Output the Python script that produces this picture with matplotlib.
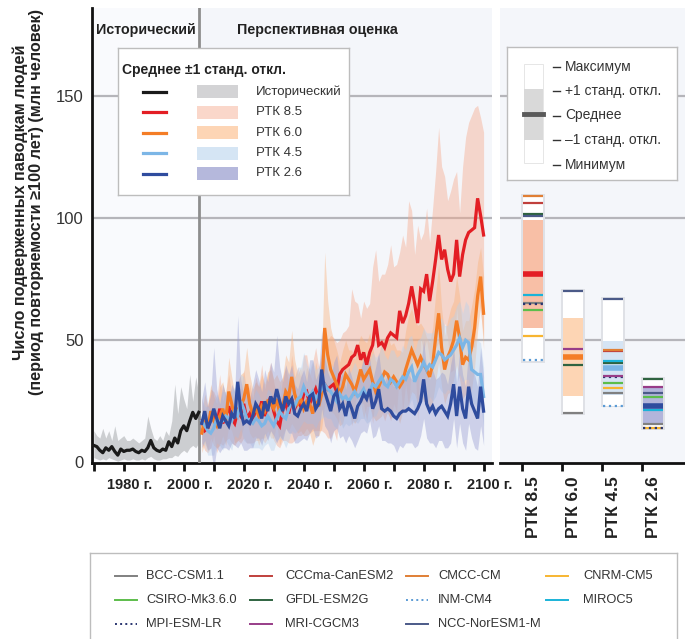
import numpy as np
import matplotlib.pyplot as plt
from matplotlib.patches import Rectangle
from matplotlib.transforms import ScaledTranslation

plt.rcParams['font.family'] = ['Liberation Sans', 'DejaVu Sans']

# ---- data ---------------------------------------------------------------
hist_years = np.arange(1970, 2006)
hist_mean = [7, 6.5, 5, 4, 6, 5, 6.5, 4.5, 3, 5.5, 4.5, 5, 5, 5.5, 4.5, 4, 5, 4.5,
             6, 9, 6, 5, 4.5, 5.5, 5, 8.5, 6.5, 10, 8, 13, 15, 13, 17, 20.5, 18, 20.5]
hist_lo = [2, 1.5, 1, 1.5, 1, 2, 1.5, 1, 0.5, 1, 1.5, 1, 1, 1.5, 1, 1, 1.5, 1,
           2, 2.5, 1.5, 1, 1, 1.5, 1.5, 2, 2, 3, 2.5, 4, 5, 4, 6, 7, 6, 8]
hist_hi = [13, 11, 10, 14, 10, 13, 9, 15, 9, 10, 11, 9, 9, 10, 9, 8, 9, 10,
           19, 14, 10, 9, 11, 9, 13, 11, 17, 32, 20, 31, 26, 22, 36, 25, 35, 28]

proj_years = np.arange(2006, 2101)
rcp85_mean = [17, 13, 14, 18, 20, 15, 22, 16, 19, 23,
              18, 16, 21, 19, 24, 18, 20, 17, 22, 20,
              25, 19, 23, 27, 21, 17, 15, 22, 24, 20,
              26, 22, 25, 23, 28, 29, 24, 27, 30, 26,
              29, 32, 30, 31, 32, 29, 36, 38, 39, 40,
              43, 44, 48, 42, 45, 40, 45, 48, 58, 48,
              49, 47, 51, 53, 52, 51, 62, 57, 60, 65,
              72, 65, 57, 71, 70, 77, 66, 74, 83, 93,
              83, 87, 79, 74, 77, 91, 76, 85, 91, 94,
              95, 96, 108, 101, 93]
rcp85_sd = [9, 8, 10, 12, 9, 11, 14, 9, 10, 13,
            10, 9, 12, 11, 14, 10, 12, 9, 13, 11,
            15, 11, 13, 14, 12, 10, 9, 13, 15, 12,
            18, 13, 14, 12, 16, 15, 12, 14, 17, 13,
            16, 20, 20, 21, 19, 20, 14, 15, 15, 16,
            28, 22, 17, 17, 21, 23, 20, 32, 29, 26,
            28, 30, 30, 36, 28, 30, 24, 36, 28, 42,
            31, 20, 40, 20, 24, 27, 24, 30, 36, 44,
            38, 30, 28, 37, 39, 28, 26, 36, 42, 45,
            47, 49, 38, 40, 42]
rcp60_mean = [12, 18, 14, 21, 17, 15, 19, 22, 17, 29,
              24, 18, 21, 23, 26, 32, 24, 20, 22, 19,
              23, 21, 25, 24, 22, 26, 20, 23, 29, 27,
              35, 28, 24, 26, 22, 25, 24, 20, 26, 23,
              28, 55, 44, 38, 35, 32, 28, 31, 36, 34,
              32, 29, 33, 38, 34, 36, 38, 33, 29, 31,
              34, 37, 36, 33, 35, 33, 31, 33, 38, 42,
              46, 43, 40, 43, 40, 38, 35, 40, 51, 61,
              47, 38, 43, 46, 50, 58, 51, 40, 43, 42,
              47, 55, 68, 76, 61]
rcp60_sd = [8, 10, 9, 11, 10, 9, 12, 11, 10, 14,
            11, 10, 12, 13, 11, 15, 12, 10, 11, 12,
            13, 11, 12, 14, 12, 10, 13, 12, 15, 14,
            19, 14, 12, 13, 11, 14, 12, 13, 15, 12,
            14, 31, 22, 17, 15, 14, 13, 15, 14, 12,
            14, 13, 15, 14, 16, 13, 15, 14, 12, 13,
            15, 14, 16, 15, 14, 13, 15, 12, 16, 18,
            17, 15, 16, 14, 15, 13, 14, 15, 18, 20,
            16, 14, 15, 17, 16, 18, 17, 14, 15, 16,
            17, 16, 14, 12, 15]
rcp45_mean = [17, 15, 13, 12, 14, 18, 16, 17, 19, 18,
              17, 21, 19, 25, 22, 18, 17, 16, 18, 17,
              15, 16, 19, 17, 15, 18, 21, 19, 18, 22,
              25, 23, 26, 27, 31, 28, 27, 29, 26, 28,
              30, 32, 30, 29, 27, 25, 28, 26, 27, 25,
              27, 29, 27, 28, 30, 27, 29, 32, 31, 33,
              35, 32, 31, 34, 33, 31, 33, 35, 34, 37,
              39, 33, 36, 38, 41, 38, 40, 39, 42, 45,
              44, 42, 43, 44, 46, 48, 51, 47, 50, 49,
              38, 37, 36, 36, 27]
rcp45_sd = [9, 8, 10, 9, 11, 10, 9, 12, 10, 11,
            12, 10, 9, 11, 13, 10, 9, 10, 12, 11,
            10, 9, 11, 12, 10, 9, 11, 10, 12, 13,
            12, 11, 13, 12, 14, 12, 11, 13, 12, 11,
            12, 13, 12, 11, 12, 11, 10, 12, 11, 10,
            11, 12, 11, 10, 12, 11, 12, 13, 12, 11,
            13, 12, 11, 12, 13, 12, 11, 13, 12, 14,
            13, 12, 14, 13, 14, 15, 13, 14, 15, 14,
            15, 14, 13, 15, 14, 16, 15, 14, 16, 15,
            14, 13, 14, 13, 12]
rcp26_mean = [16, 21, 14, 17, 22, 18, 14, 19, 17, 15,
              20, 18, 33, 21, 16, 17, 16, 19, 24, 22,
              18, 25, 21, 27, 24, 30, 25, 21, 27, 24,
              26, 20, 19, 22, 24, 21, 27, 28, 22, 24,
              38, 29, 25, 21, 27, 29, 22, 24, 19, 25,
              22, 18, 23, 25, 28, 26, 30, 22, 25, 30,
              22, 21, 22, 21, 19, 18, 20, 21, 21, 22,
              21, 20, 22, 25, 34, 24, 21, 23, 20, 22,
              23, 21, 19, 24, 32, 19, 31, 22, 18, 31,
              24, 21, 18, 31, 21]
rcp26_sd = [10, 12, 9, 11, 25, 12, 10, 13, 11, 10,
            12, 11, 27, 13, 11, 12, 10, 13, 14, 12,
            11, 13, 12, 14, 13, 22, 14, 12, 13, 12,
            14, 12, 11, 13, 14, 12, 15, 14, 12, 13,
            16, 14, 12, 13, 14, 15, 12, 13, 11, 14,
            13, 12, 14, 13, 15, 14, 13, 12, 14, 15,
            13, 12, 14, 13, 12, 14, 13, 15, 13, 14,
            13, 14, 15, 14, 16, 14, 13, 15, 14, 13,
            14, 15, 13, 16, 14, 13, 15, 14, 13, 15,
            14, 15, 13, 16, 14]

# end-of-century summary per scenario
scenarios = ['РТК 8.5', 'РТК 6.0', 'РТК 4.5', 'РТК 2.6']
stat_mean = [77.1, 43.1, 38.6, 23.2]
stat_sd = [22.2, 16.1, 11.0, 7.5]
stat_min = [41.6, 20.2, 23.3, 14.2]
stat_max = [109.0, 70.2, 66.9, 34.3]

models = ['BCC-CSM1.1', 'CCCma-CanESM2', 'CMCC-CM', 'CNRM-CM5',
          'CSIRO-Mk3.6.0', 'GFDL-ESM2G', 'INM-CM4', 'MIROC5',
          'MPI-ESM-LR', 'MRI-CGCM3', 'NCC-NorESM1-M']
nan = np.nan
model_rcp85 = [65.2, 106.0, 108.9, 51.8, 62.4, 101.7, 41.7, 68.3, 64.9, 76.6, 100.7]
model_rcp60 = [20.2, nan, nan, nan, nan, 39.8, nan, nan, nan, 46.3, 70.2]
model_rcp45 = [28.3, 45.4, 45.8, 30.5, 32.7, 40.6, 23.3, 41.3, 35.0, 35.4, 66.9]
model_rcp26 = [15.8, nan, nan, 14.2, 26.7, 34.3, nan, 21.4, 14.0, 30.8, 28.3]

# ---- styles -------------------------------------------------------------
line_col = ['#e31e24', '#f47d26', '#7cb6e6', '#2f4c9e']
band_col = ['#f6a88a', '#f9b27c', '#b8d2ee', '#979dd2']
bar_col = ['#f8bfa6', '#fdd5b4', '#d5e4f4', '#b2b5db']
legend_patch = ['#fad7ca', '#fdd5b5', '#d5e5f4', '#b5b8dc']
model_col = ['#808080', '#c0403c', '#e07f35', '#f7b531', '#5dbd4b', '#2f6340',
             '#5b9bd5', '#1ab3d8', '#2a3570', '#983d88', '#4b5a88']
model_ls = ['-', '-', '-', '-', '-', '-', ':', '-', ':', '-', '-']
bg = '#f4f6fa'
grid_col = '#b5b5ba'
txt = '#333333'

W, H = 685, 639
fig = plt.figure(figsize=(W / 100, H / 100), dpi=100)


def box(x0, y0, x1, y1):
    # pixel box measured from the top-left corner -> figure fraction rect
    return [x0 / W, 1 - y1 / H, (x1 - x0) / W, (y1 - y0) / H]


def pixel_axes(x0, y0, x1, y1, edge='#bdbdbd'):
    a = fig.add_axes(box(x0, y0, x1, y1))
    a.set_xlim(x0, x1)
    a.set_ylim(y1, y0)
    a.set_xticks([])
    a.set_yticks([])
    a.set_facecolor('white')
    for s in a.spines.values():
        s.set_color(edge)
        s.set_linewidth(1)
    return a


ytop = 185.8

# ---- main time-series panel ---------------------------------------------
ax = fig.add_axes(box(92, 8, 492, 462.5))
ax.set_facecolor(bg)
ax.set_xlim(1969.4, 2102.8)
ax.set_ylim(0, ytop)
ax.axvspan(1969.4, 2005, color='#f9fafd', zorder=0, lw=0)
for g in (50, 100, 150):
    ax.axhline(g, color=grid_col, lw=1.6, zorder=1)

ax.fill_between(hist_years, hist_lo, hist_hi, color='#c5c7ca', alpha=0.85, lw=0, zorder=2)
means = [rcp85_mean, rcp60_mean, rcp45_mean, rcp26_mean]
sds = [rcp85_sd, rcp60_sd, rcp45_sd, rcp26_sd]
for m, s, c in zip(means, sds, band_col):
    m = np.array(m, float)
    s = np.array(s, float)
    ax.fill_between(proj_years, m - s, m + s, color=c, alpha=0.42, lw=0, zorder=2)

ax.axvline(2005, color='#8e8e8e', lw=2, zorder=3)
for m, c in zip(means, line_col):
    ax.plot(proj_years, m, color=c, lw=2.3, zorder=4, solid_joinstyle='miter')
ax.plot(hist_years, hist_mean, color='#1a1a1a', lw=2.3, zorder=5)

for side in ('top', 'right'):
    ax.spines[side].set_visible(False)
for side in ('left', 'bottom'):
    ax.spines[side].set_linewidth(2)
    ax.spines[side].set_color('#111111')

ax.set_xticks(np.arange(1970, 2101, 10))
ax.set_xticklabels([f'{y} г.' if y % 20 == 0 and y >= 1980 else '' for y in range(1970, 2101, 10)],
                   fontsize=10.5, fontweight='bold', color='#222222')
ax.tick_params(axis='x', length=6, width=2, color='#111111', pad=5)
for lab in ax.get_xticklabels():
    lab.set_transform(lab.get_transform() + ScaledTranslation(0.06, 0, fig.dpi_scale_trans))
ax.set_yticks([0, 50, 100, 150])
ax.set_yticklabels(['0', '50', '100', '150'], fontsize=12, color=txt)
ax.tick_params(axis='y', length=0, pad=6)

fig.text(96 / W, 1 - 30 / H, 'Исторический', fontsize=10.3, fontweight='bold', va='center',
         color='#222222')
fig.text(237 / W, 1 - 30 / H, 'Перспективная оценка', fontsize=10.3, fontweight='bold',
         va='center', color='#222222')
fig.text(28 / W, 1 - 202 / H,
         'Число подверженных паводкам людей\n(период повторяемости ≥100 лет) (млн человек)',
         rotation=90, ha='center', va='center', fontsize=11.7, fontweight='bold',
         multialignment='center', linespacing=1.1, color='#222222')

# ---- end-of-century summary panel ---------------------------------------
axr = fig.add_axes(box(500, 8, 685, 462.5))
axr.set_facecolor(bg)
axr.set_xlim(-0.825, 3.8)
axr.set_ylim(0, ytop)
for g in (50, 100, 150):
    axr.axhline(g, color=grid_col, lw=1.6, zorder=1)

model_vals = np.array([model_rcp85, model_rcp60, model_rcp45, model_rcp26])
hw = 0.25
for i in range(4):
    axr.add_patch(Rectangle((i - hw - 0.04, stat_min[i] - 0.8), 2 * hw + 0.08,
                            stat_max[i] - stat_min[i] + 1.6, fc='#dfe1e6', ec='none', zorder=2))
    axr.add_patch(Rectangle((i - hw, stat_min[i]), 2 * hw, stat_max[i] - stat_min[i],
                            fc='white', ec='none', zorder=3))
    axr.add_patch(Rectangle((i - hw, stat_mean[i] - stat_sd[i]), 2 * hw, 2 * stat_sd[i],
                            fc=bar_col[i], ec='none', zorder=3))
    for k in range(len(models)):
        v = model_vals[i, k]
        if np.isnan(v):
            continue
        axr.hlines(v, i - hw, i + hw, color=model_col[k], lw=1.6,
                   linestyles=model_ls[k], zorder=4)
    axr.hlines(stat_mean[i], i - hw, i + hw, color=line_col[i], lw=4, zorder=5)

for side in ('top', 'right', 'left'):
    axr.spines[side].set_visible(False)
axr.spines['bottom'].set_linewidth(2)
axr.spines['bottom'].set_color('#111111')
axr.set_yticks([])
axr.set_xticks(range(4))
axr.set_xticklabels(scenarios, rotation=90, fontsize=12.5, fontweight='bold', color='#222222')
axr.tick_params(axis='x', which='major', length=0, pad=10)
axr.set_xticks([i - hw - 0.03 for i in range(4)], minor=True)
axr.tick_params(axis='x', which='minor', length=6, width=2, color='#111111')

# ---- legend: scenario means and spread ----------------------------------
lg = pixel_axes(118, 48, 349, 195)
lg.text(122, 70, 'Среднее ±1 станд. откл.', fontsize=10, fontweight='bold', va='center',
        color='#222222')
leg_names = ['Исторический'] + scenarios
leg_lines = ['#1a1a1a'] + line_col
leg_fill = ['#d3d3d5'] + legend_patch
for j, (name, lc, fc) in enumerate(zip(leg_names, leg_lines, leg_fill)):
    yy = 91.5 + j * 20.5
    lg.plot([143, 166], [yy, yy], color=lc, lw=2.3)
    lg.add_patch(Rectangle((197, yy - 6.5), 41, 13, fc=fc, ec='none'))
    lg.text(256, yy, name, fontsize=9.5, va='center', color=txt)

# ---- legend: how to read the bars ---------------------------------------
lr = pixel_axes(507, 47, 677, 180)
lr.add_patch(Rectangle((524, 64), 19, 99, fc='white', ec='#e2e2e2', lw=0.6))
lr.add_patch(Rectangle((524, 88.5), 19, 51, fc='#d9d9d9', ec='none'))
lr.plot([524, 543], [114, 114], color='#5a5a5a', lw=3.5)
bar_keys = ['Максимум', '+1 станд. откл.', 'Среднее', '–1 станд. откл.', 'Минимум']
for j, t in enumerate(bar_keys):
    yy = 66.5 + j * 24.5
    lr.plot([553, 560], [yy, yy], color=txt, lw=1)
    lr.text(565, yy, t, fontsize=10, va='center', color=txt)

# ---- legend: individual models ------------------------------------------
lb = pixel_axes(90, 553, 677, 645)
lb.spines['bottom'].set_visible(False)
col_x = [115, 250, 406, 546]
lab_x = [146, 285, 438, 583]
for k, name in enumerate(models):
    r, c = divmod(k, 4)
    yy = 576 + r * 24
    lb.plot([col_x[c], col_x[c] + 22], [yy, yy], color=model_col[k], lw=1.4,
            linestyle=model_ls[k])
    lb.text(lab_x[c], yy, name, fontsize=9.3, va='center', color=txt)

fig.savefig('out.png', dpi=100)
